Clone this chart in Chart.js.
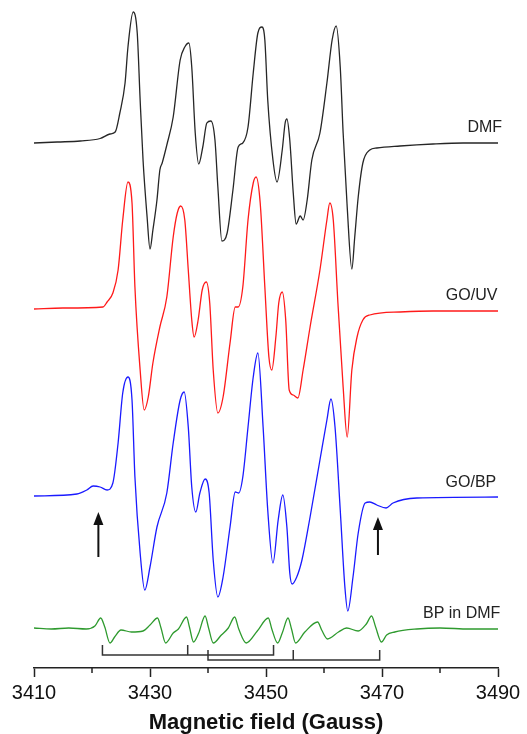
<!DOCTYPE html>
<html>
<head>
<meta charset="utf-8">
<script src="https://cdn.jsdelivr.net/npm/chart.js@4.4.1/dist/chart.umd.min.js"></script>
<style>
  html, body { margin: 0; padding: 0; background: #fff; }
  #wrap { width: 527px; height: 734px; position: relative; }
</style>
</head>
<body>
<div id="wrap"><canvas id="eprChart"></canvas></div>
<script>
// Magnetic field (G) and first-derivative EPR signal (arb. units)
const dmfField = [3410, 3414, 3418, 3421.4, 3423.1, 3424.0, 3424.8, 3425.7, 3426.2, 3427.1, 3427.8, 3428.3, 3428.8, 3429.5, 3430.0, 3430.5, 3431.2, 3431.7, 3432.1, 3432.9, 3434.0, 3435.2, 3436.0, 3436.7, 3437.2, 3437.8, 3438.4, 3439.1, 3439.8, 3440.5, 3441.2, 3441.7, 3442.4, 3443.3, 3444.3, 3445.2, 3446.0, 3446.9, 3447.8, 3448.6, 3449.3, 3449.8, 3450.3, 3451.2, 3451.9, 3452.8, 3453.3, 3453.6, 3454.1, 3454.7, 3455.2, 3455.9, 3456.4, 3457.1, 3457.9, 3459.3, 3460.5, 3461.4, 3462.1, 3462.8, 3463.3, 3464.0, 3464.8, 3465.3, 3465.9, 3466.7, 3467.9, 3469.1, 3473.1, 3478.8, 3484, 3490];
const dmfSignal = [0, 1, 2, 4.5, 9, 11, 30, 60, 96, 131, 110, 43, -17, -74, -106, -87, -57, -27, -20, -2, 26, 83, 96, 100, 76, 10, -21, -4, 20, 22, 3, -44, -98, -90, -47, -4, 0, 16, 70, 110, 116, 103, 43, -17, -39, -7, 20, 24, 3, -50, -81, -73, -77, -57, -17, 10, 60, 103, 117, 76, 10, -64, -126, -94, -54, -20, -7, -5, -3, -1, 0, 0];

const uvField = [3410, 3415, 3421.9, 3422.6, 3423.6, 3424.5, 3425.3, 3426.2, 3426.9, 3427.4, 3428.3, 3429.0, 3429.7, 3430.5, 3431.7, 3432.9, 3434.0, 3434.7, 3435.3, 3436.0, 3436.6, 3437.2, 3437.6, 3438.3, 3439.0, 3439.7, 3440.3, 3440.9, 3441.7, 3442.6, 3443.8, 3444.7, 3445.2, 3446.0, 3446.9, 3447.8, 3448.3, 3449.0, 3449.8, 3450.5, 3451.0, 3451.7, 3452.2, 3452.8, 3453.4, 3454.0, 3454.7, 3455.5, 3456.4, 3457.6, 3459.3, 3460.5, 3461.0, 3461.6, 3462.4, 3463.3, 3464.0, 3464.8, 3465.7, 3466.7, 3467.9, 3473.1, 3478.8, 3485, 3490];
const uvSignal = [1, 2, 3, 8, 17, 40, 90, 128, 107, 23, -60, -100, -87, -53, -17, 13, 73, 97, 104, 90, 40, -10, -27, -10, 20, 28, 7, -60, -103, -87, -33, 3, 3, 23, 90, 127, 133, 107, 23, -47, -60, -27, 7, 18, -10, -80, -85, -88, -60, -17, 40, 90, 107, 90, 7, -77, -127, -60, -27, -10, -5, -2, -1, -1, -1];

const bpField = [3410, 3417.4, 3419.1, 3420.2, 3421.4, 3422.6, 3423.6, 3424.5, 3425.3, 3426.2, 3426.9, 3427.4, 3428.3, 3429.1, 3430.0, 3431.2, 3432.9, 3434.0, 3435.2, 3435.9, 3436.6, 3437.2, 3437.9, 3438.6, 3439.5, 3440.2, 3440.9, 3441.7, 3442.6, 3443.8, 3444.7, 3445.3, 3446.0, 3446.9, 3447.8, 3448.6, 3449.5, 3450.3, 3451.2, 3452.1, 3452.9, 3453.6, 3454.1, 3454.5, 3455.3, 3456.2, 3457.6, 3459.3, 3460.5, 3461.2, 3461.9, 3462.8, 3463.6, 3464.1, 3465.0, 3465.9, 3467.1, 3467.9, 3469.1, 3470.7, 3471.9, 3476.0, 3490];
const bpSignal = [1, 3, 7, 11, 10, 7, 14, 54, 104, 120, 97, 20, -56, -93, -70, -30, 4, 54, 97, 105, 70, 10, -15, 4, 18, 4, -63, -100, -80, -30, 5, 4, 20, 70, 120, 144, 70, -13, -66, -23, 2, -30, -76, -87, -80, -63, -20, 37, 77, 98, 70, -13, -90, -114, -80, -36, -6, -5, -8, -11, -6, -1, 0];

const bpDmfField = [3410, 3413, 3416, 3419, 3420.5, 3421.5, 3422.2, 3423.1, 3423.9, 3425.0, 3426.8, 3428.8, 3430.0, 3431.3, 3431.9, 3432.7, 3434.0, 3434.9, 3436.3, 3436.8, 3437.5, 3438.4, 3439.5, 3440.1, 3440.9, 3442.3, 3443.5, 3444.6, 3445.3, 3446.6, 3448.5, 3450.4, 3451.0, 3452.0, 3452.8, 3453.8, 3454.4, 3455.1, 3456.7, 3458.9, 3459.6, 3460.6, 3462.5, 3463.9, 3465.9, 3467.3, 3468.2, 3468.9, 3469.9, 3470.8, 3472.2, 3476, 3480, 3485, 3490];
const bpDmfSignal = [1, 0, 1, 0, 3, 11, 2, -14, -8, -1, -3, -2, 4, 11, 1, -14, -4, 0, 12, 2, -13, -4, 13, 1, -14, -6, 1, 12, 0, -14, -2, 11, 0, -14, -4, 11, 0, -14, -3, 7, -1, -10, -3, 1, -2, 5, 13, 2, -13, -6, -3, 0, 1, 0, 0];

const traceNames = ["DMF", "GO/UV", "GO/BP", "BP in DMF"];
const traceColors = ["#262626", "#ff1a1a", "#1a1aff", "#2e9a2e"];

// Stick diagrams for the two triplets (G)
const stickA = [3421.8, 3436.5, 3451.3];
const stickB = [3440.0, 3454.7, 3469.6];

// Arrows marking the extra GO/BP features (G)
const arrowFields = [3421.1, 3469.3];

const xTicks = [3410, 3420, 3430, 3440, 3450, 3460, 3470, 3480, 3490];

// Vertical stacking (1 unit = 1 px of plot height)
const traceOffsets = [525, 358, 171, 39];
const fontFamily = "'Liberation Sans', Arial, Helvetica, sans-serif";

function toPoints(fields, signals, offset) {
    return fields.map((f, i) => ({ x: f, y: signals[i] + offset }));
}

// bracket path: end tick, base line, middle tick, base line, end tick
function stickPoints(sticks, top, base) {
    return [
        { x: sticks[0], y: top },
        { x: sticks[0], y: base },
        { x: sticks[1], y: base },
        { x: sticks[1], y: top },
        { x: sticks[1], y: base },
        { x: sticks[2], y: base },
        { x: sticks[2], y: top }
    ];
}

const fieldSets = [dmfField, uvField, bpField, bpDmfField];
const signalSets = [dmfSignal, uvSignal, bpSignal, bpDmfSignal];

const traceDatasets = traceNames.map((name, i) => ({
    label: name,
    data: toPoints(fieldSets[i], signalSets[i], traceOffsets[i]),
    borderColor: traceColors[i],
    borderWidth: 1.3,
    pointRadius: 0,
    cubicInterpolationMode: "monotone",
    fill: false
}));

const stickDatasets = [
    stickPoints(stickA, 23, 13),
    stickPoints(stickB, 18, 8)
].map(points => ({
    label: "",
    data: points,
    borderColor: "#333",
    borderWidth: 1.5,
    pointRadius: 0,
    tension: 0,
    fill: false
}));

// name labels, right-aligned near the end of each trace
const labelAnchors = [
    { x: 3490.7, y: 540 },
    { x: 3489.9, y: 372 },
    { x: 3489.7, y: 185 },
    { x: 3490.4, y: 54 }
];

const arrowBase = [111, 113];
const arrowTip = [156, 151];

const annotationPlugin = {
    id: "annotations",
    afterDatasetsDraw(chart) {
        const { ctx } = chart;
        const xs = chart.scales.x;
        const ys = chart.scales.y;
        ctx.save();

        ctx.fillStyle = "#222";
        ctx.font = "16px " + fontFamily;
        ctx.textAlign = "right";
        ctx.textBaseline = "middle";
        traceNames.forEach((name, i) => {
            ctx.fillText(name, xs.getPixelForValue(labelAnchors[i].x), ys.getPixelForValue(labelAnchors[i].y));
        });

        ctx.strokeStyle = "#111";
        ctx.fillStyle = "#111";
        ctx.lineWidth = 2;
        arrowFields.forEach((f, i) => {
            const x = xs.getPixelForValue(f);
            const yb = ys.getPixelForValue(arrowBase[i]);
            const yt = ys.getPixelForValue(arrowTip[i]);
            ctx.beginPath();
            ctx.moveTo(x, yb);
            ctx.lineTo(x, yt + 10);
            ctx.stroke();
            ctx.beginPath();
            ctx.moveTo(x, yt);
            ctx.lineTo(x - 5, yt + 13);
            ctx.lineTo(x + 5, yt + 13);
            ctx.closePath();
            ctx.fill();
        });

        ctx.restore();
    },
    afterDraw(chart) {
        // short minor ticks at the unlabeled positions
        const { ctx } = chart;
        const xs = chart.scales.x;
        ctx.save();
        ctx.strokeStyle = "#222";
        ctx.lineWidth = 1.5;
        xTicks.filter(v => v % 20 === 0).forEach(v => {
            const x = xs.getPixelForValue(v);
            ctx.beginPath();
            ctx.moveTo(x, xs.top);
            ctx.lineTo(x, xs.top + 5);
            ctx.stroke();
        });
        ctx.restore();
    }
};

const eprChart = new Chart(document.getElementById("eprChart"), {
    type: "line",
    data: {
        datasets: [...traceDatasets, ...stickDatasets]
    },
    options: {
        responsive: true,
        maintainAspectRatio: false,
        animation: false,
        layout: {
            padding: { left: 34, right: 29, top: 0, bottom: 0 }
        },
        plugins: {
            legend: { display: false },
            tooltip: { enabled: false }
        },
        scales: {
            x: {
                type: "linear",
                position: "bottom",
                min: 3410,
                max: 3490,
                afterBuildTicks(scale) {
                    scale.ticks = xTicks.map(v => ({ value: v }));
                },
                afterFit(scale) {
                    scale.height = 66;
                },
                ticks: {
                    autoSkip: false,
                    maxRotation: 0,
                    padding: 4,
                    color: "#111",
                    font: { size: 20, family: fontFamily },
                    callback(value) {
                        return value % 20 === 10 ? String(value) : "";
                    }
                },
                grid: {
                    drawOnChartArea: false,
                    drawTicks: true,
                    tickLength: 9,
                    tickWidth: 1.5,
                    tickColor(ctx) {
                        return ctx.tick && ctx.tick.value % 20 === 10 ? "#222" : "rgba(0,0,0,0)";
                    }
                },
                border: {
                    display: true,
                    color: "#222",
                    width: 1.5
                },
                title: {
                    display: true,
                    text: "Magnetic field (Gauss)",
                    color: "#111",
                    font: { size: 22, weight: "bold", family: fontFamily, lineHeight: 1 },
                    padding: 0
                }
            },
            y: {
                display: false,
                min: 0,
                max: 668
            }
        }
    },
    plugins: [annotationPlugin]
});
</script>
</body>
</html>
